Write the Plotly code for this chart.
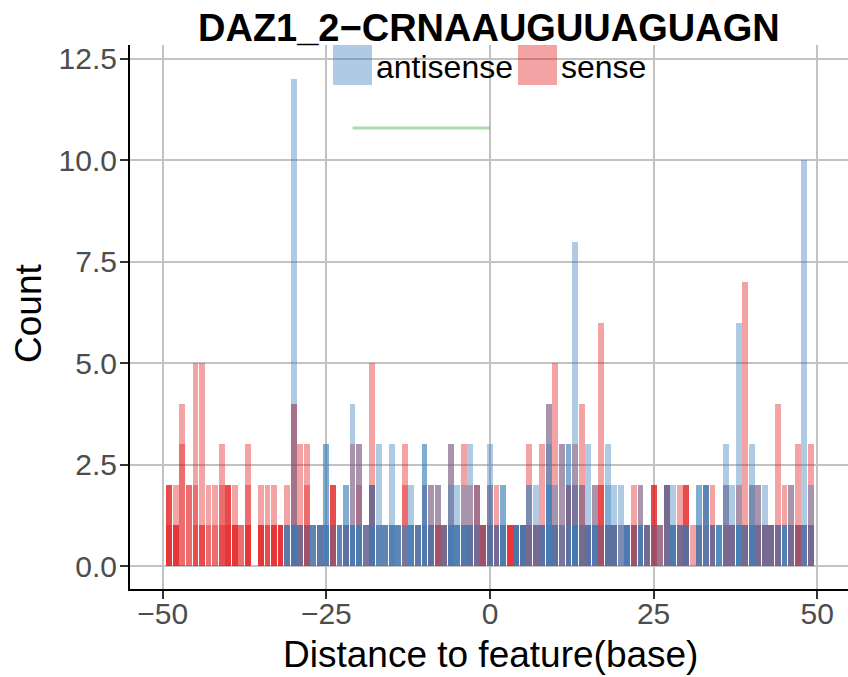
import plotly.graph_objects as go

positions = list(range(-49, 50))

# Sense strand: overlapping layers (each layer drawn semi-transparent)
sense_l1 = [2,2,4,2,5,5,2,2,3,2,
            2,1,3,0,2,2,2,1,2,4,
            3,3,1,1,1,2,1,1,3,3,
            1,5,1,1,1,1,3,1,1,2,
            2,2,1,3,1,3,2,2,1,2,
            2,1,1,1,1,3,1,3,4,5,
            3,2,3,4,1,2,6,1,1,1,
            1,2,2,1,2,1,2,1,2,2,
            1,1,2,2,0,2,1,2,7,2,
            2,1,1,4,2,2,3,1,3]
sense_l2 = [2,1,3,2,2,1,1,1,2,2,
            1,1,2,0,1,1,1,1,1,4,
            1,2,0,1,0,2,0,1,1,2,
            1,2,0,0,0,0,2,0,1,1,
            1,1,1,1,0,1,1,2,1,1,
            1,1,1,1,1,1,1,1,1,1,
            1,2,2,2,1,1,2,1,1,0,
            1,1,1,1,2,1,2,1,1,2,
            0,1,1,1,0,1,1,0,1,1,
            1,1,1,1,0,1,1,1,1]
sense_l3 = [2,1,0,0,1,1,0,0,1,2,
            1,0,1,0,1,1,1,1,0,1,
            1,1,0,0,0,2,0,1,0,0,
            0,2,0,0,0,0,0,0,0,0,
            1,1,1,0,0,0,1,1,1,1,
            1,0,1,1,1,1,1,1,0,1,
            0,2,1,1,1,0,2,1,1,0,
            0,1,0,1,2,0,2,0,1,2,
            0,0,0,1,0,1,1,0,1,0,
            1,1,1,1,0,1,1,0,1]
sense_l4 = [1,1,0,0,0,0,0,0,0,1,
            1,0,1,0,1,0,1,1,0,0,
            0,1,0,0,0,1,0,0,0,0,
            0,1,0,0,0,0,0,0,0,0,
            0,1,0,0,0,0,0,0,1,0,
            0,0,1,0,0,0,0,0,0,0,
            0,0,0,0,0,0,1,0,0,0,
            0,1,0,0,1,0,0,0,0,1,
            0,0,0,0,0,0,0,0,0,0,
            0,0,0,0,0,0,1,0,0]

# Antisense strand layers
anti_l1 = [0,0,0,0,0,0,0,0,0,0,
           0,0,0,0,0,0,0,0,1,12,
           1,1,1,1,3,1,1,2,4,3,
           1,2,3,1,3,1,1,2,1,3,
           2,2,1,3,2,2,3,2,1,3,
           1,2,0,1,1,2,2,1,4,2,
           3,3,8,2,3,2,1,3,2,2,
           1,1,2,1,1,1,2,2,1,1,
           0,2,2,1,1,3,2,6,1,3,
           2,2,1,1,1,2,1,10,2]
anti_l2 = [0,0,0,0,0,0,0,0,0,0,
           0,0,0,0,0,0,0,0,1,1,
           1,0,1,1,3,0,1,2,1,1,
           1,2,1,1,1,1,1,1,1,3,
           1,0,1,2,1,1,1,1,0,2,
           1,2,0,1,1,2,1,1,3,1,
           1,3,2,1,1,1,0,2,1,1,
           1,0,1,1,0,0,2,1,1,1,
           0,2,2,1,1,2,1,1,1,2,
           1,1,1,1,1,1,0,1,1]
anti_l3 = [0,0,0,0,0,0,0,0,0,0,
           0,0,0,0,0,0,0,0,1,1,
           0,0,1,1,1,0,1,1,1,1,
           0,1,1,1,1,1,0,1,1,2,
           1,0,0,1,1,1,1,0,0,1,
           0,1,0,1,1,0,0,1,2,1,
           0,1,1,0,1,1,0,1,1,0,
           1,0,1,0,0,0,0,1,0,1,
           0,1,2,0,1,0,0,1,0,1,
           0,0,0,0,1,0,0,1,0]
anti_l4 = [0,0,0,0,0,0,0,0,0,0,
           0,0,0,0,0,0,0,0,0,1,
           0,0,0,0,1,0,0,0,1,1,
           0,1,0,0,1,0,0,1,0,1,
           0,0,0,1,1,1,0,0,0,0,
           0,1,0,1,1,0,0,0,2,0,
           0,0,1,0,0,1,0,0,0,0,
           1,0,1,0,0,0,0,1,0,0,
           0,0,0,0,1,0,0,1,0,1,
           0,0,0,0,1,0,0,0,0]
anti_l5 = [0]*58 + [1,0,0,0,1] + [0]*24 + [1] + [0]*11

# Green reference segment
seg_x = [-21, 0]
seg_y = [10.8, 10.8]

y_tickvals = [0, 2.5, 5, 7.5, 10, 12.5]
y_ticktext = ["0.0", "2.5", "5.0", "7.5", "10.0", "12.5"]
x_tickvals = [-50, -25, 0, 25, 50]
x_ticktext = ["\u221250", "\u221225", "0", "25", "50"]

SENSE = "rgba(228,26,28,0.4)"
ANTI = "rgba(55,126,184,0.4)"
FONT = "Liberation Sans, Arial, sans-serif"

fig = go.Figure()
for layer in [sense_l1, sense_l2, sense_l3, sense_l4]:
    fig.add_trace(go.Bar(x=positions, y=layer, width=0.9,
                         marker=dict(color=SENSE, line=dict(width=0)),
                         showlegend=False, hoverinfo="skip"))
for layer in [anti_l1, anti_l2, anti_l3, anti_l4, anti_l5]:
    fig.add_trace(go.Bar(x=positions, y=layer, width=0.9,
                         marker=dict(color=ANTI, line=dict(width=0)),
                         showlegend=False, hoverinfo="skip"))
fig.add_trace(go.Scatter(x=seg_x, y=seg_y, mode="lines",
                         line=dict(color="rgba(77,175,74,0.45)", width=3),
                         showlegend=False, hoverinfo="skip"))

# plot area: x 130..848 px, y 45..589 px
def px_x(p):
    return (p - 130) / 718.0
def px_y(p):
    return (589 - p) / 544.0

shapes = [
    dict(type="rect", xref="paper", yref="paper",
         x0=px_x(333), x1=px_x(372), y0=px_y(85), y1=px_y(45),
         fillcolor=ANTI, line=dict(width=0), layer="above"),
    dict(type="rect", xref="paper", yref="paper",
         x0=px_x(518), x1=px_x(557), y0=px_y(85), y1=px_y(45),
         fillcolor=SENSE, line=dict(width=0), layer="above"),
]
annotations = [
    dict(text="antisense", xref="paper", yref="paper", x=px_x(374), y=px_y(67),
         xanchor="left", yanchor="middle", showarrow=False,
         font=dict(family=FONT, size=32, color="black")),
    dict(text="sense", xref="paper", yref="paper", x=px_x(559), y=px_y(67),
         xanchor="left", yanchor="middle", showarrow=False,
         font=dict(family=FONT, size=32, color="black")),
    dict(text="Count", xref="paper", yref="paper", x=px_x(28), y=px_y(314),
         xanchor="center", yanchor="middle", textangle=-90, showarrow=False,
         font=dict(family=FONT, size=37, color="black")),
    dict(text="Distance to feature(base)", xref="paper", yref="paper",
         x=px_x(490), y=px_y(654), xanchor="center", yanchor="middle",
         showarrow=False, font=dict(family=FONT, size=37, color="black")),
    dict(text="<b>DAZ1_2\u2212CRNAAUGUUAGUAGN</b>", xref="paper", yref="paper",
         x=px_x(489), y=px_y(28), xanchor="center", yanchor="middle",
         showarrow=False, font=dict(family=FONT, size=38, color="black")),
]

fig.update_layout(
    width=848, height=677,
    margin=dict(l=130, r=0, t=45, b=88, autoexpand=False),
    barmode="overlay", bargap=0,
    plot_bgcolor="white", paper_bgcolor="white",
    font=dict(family=FONT),
    shapes=shapes, annotations=annotations,
    showlegend=False,
)
fig.update_xaxes(range=[-55.0, 54.7], tickvals=x_tickvals, ticktext=x_ticktext,
                 automargin=False, ticklabelstandoff=-11,
                 showgrid=True, gridcolor="#C2C2C2", gridwidth=2, zeroline=False,
                 showline=True, linecolor="black", linewidth=2,
                 ticks="outside", ticklen=8, tickwidth=2, tickcolor="#333333",
                 tickfont=dict(family=FONT, size=30, color="#4D4D4D"))
fig.update_yaxes(range=[-0.567, 12.845], tickvals=y_tickvals, ticktext=y_ticktext,
                 automargin=False, ticklabelstandoff=-3,
                 showgrid=True, gridcolor="#C2C2C2", gridwidth=2, zeroline=False,
                 showline=True, linecolor="black", linewidth=2,
                 ticks="outside", ticklen=8, tickwidth=2, tickcolor="#333333",
                 tickfont=dict(family=FONT, size=30, color="#4D4D4D"))

fig.write_html("out.html", config={"displayModeBar": False},
               post_script="document.body.style.margin='0';document.body.style.overflow='hidden';")
